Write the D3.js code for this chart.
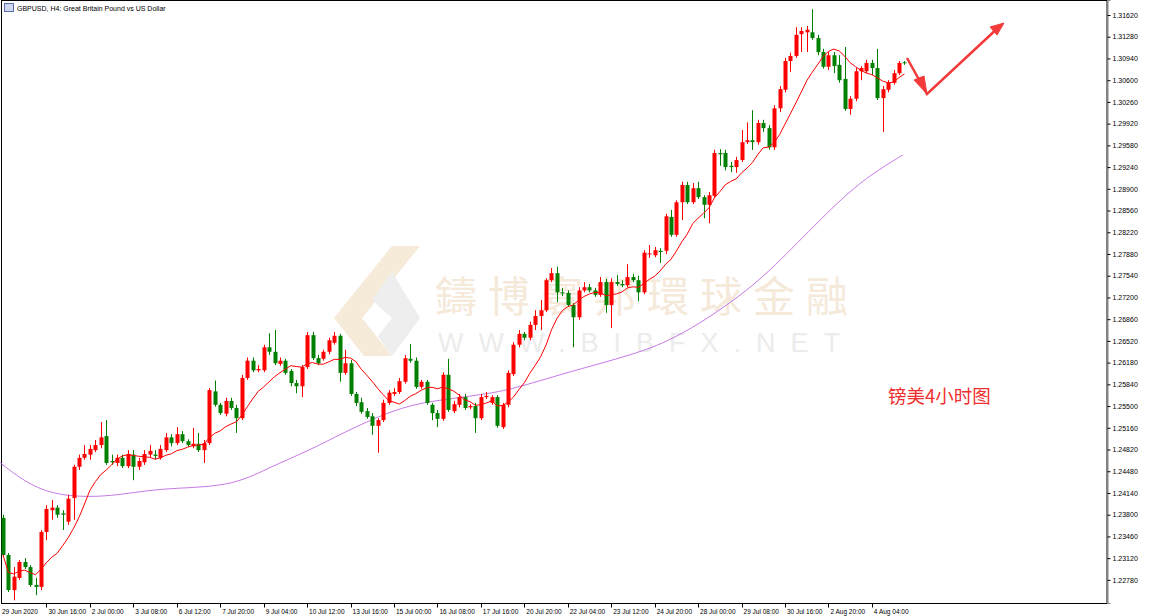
<!DOCTYPE html>
<html>
<head>
  <meta charset="UTF-8">
  <title>GBPUSD H4</title>
  <script src="https://cdn.jsdelivr.net/npm/d3@7"></script>
  <style>
    body { margin: 0; background: #fff; }
    svg { display: block; font-family: "Liberation Sans", Arial, sans-serif; }
  </style>
</head>
<body>
<svg id="chart" width="1170" height="616"></svg>
<script>
// OHLC per H4 bar
var open = [1.2375,1.2317,1.2262,1.2281,1.2306,1.2298,1.2270,1.2267,1.2353,1.2387,
1.2391,1.2382,1.2369,1.2406,1.2455,1.2469,1.2474,1.2481,1.2489,1.2503,
1.2464,1.2461,1.2469,1.2456,1.2474,1.2455,1.2462,1.2474,1.2474,1.2469,
1.2481,1.2501,1.2492,1.2506,1.2495,1.2487,1.2491,1.2481,1.2492,1.2573,
1.2552,1.2538,1.2558,1.2547,1.2531,1.2594,1.2621,1.2606,1.2606,1.2642,
1.2635,1.2616,1.2621,1.2605,1.2586,1.2581,1.2611,1.2661,1.2625,1.2624,
1.2635,1.2649,1.2660,1.2602,1.2617,1.2569,1.2556,1.2542,1.2534,1.2519,
1.2528,1.2555,1.2569,1.2572,1.2588,1.2624,1.2621,1.2580,1.2588,1.2552,
1.2539,1.2530,1.2599,1.2542,1.2552,1.2564,1.2548,1.2550,1.2531,1.2564,
1.2555,1.2564,1.2517,1.2552,1.2600,1.2646,1.2663,1.2657,1.2677,1.2691,
1.2700,1.2747,1.2758,1.2728,1.2727,1.2708,1.2689,1.2731,1.2736,1.2731,
1.2724,1.2744,1.2708,1.2744,1.2741,1.2739,1.2752,1.2747,1.2728,1.2788,
1.2786,1.2793,1.2793,1.2846,1.2818,1.2869,1.2896,1.2869,1.2891,1.2877,
1.2865,1.2879,1.2946,1.2946,1.2926,1.2924,1.2935,1.2963,1.2966,1.2963,
1.2993,1.2985,1.2955,1.3016,1.3045,1.3090,1.3098,1.3132,1.3135,1.3135,
1.3126,1.3104,1.3081,1.3099,1.3084,1.3062,1.3015,1.3031,1.3074,1.3074,
1.3087,1.3079,1.3032,1.3045,1.3056,1.3071,1.3088];
var high = [1.2380,1.2320,1.2298,1.2309,1.2312,1.2301,1.2281,1.2356,1.2395,1.2403,
1.2395,1.2387,1.2411,1.2458,1.2474,1.2489,1.2489,1.2497,1.2525,1.2528,
1.2474,1.2474,1.2474,1.2481,1.2481,1.2469,1.2481,1.2489,1.2481,1.2489,
1.2508,1.2506,1.2517,1.2511,1.2498,1.2516,1.2508,1.2497,1.2578,1.2590,
1.2555,1.2563,1.2563,1.2552,1.2599,1.2626,1.2626,1.2614,1.2646,1.2664,
1.2669,1.2626,1.2624,1.2608,1.2591,1.2614,1.2666,1.2666,1.2630,1.2638,
1.2657,1.2666,1.2663,1.2638,1.2622,1.2572,1.2563,1.2547,1.2539,1.2531,
1.2560,1.2575,1.2578,1.2594,1.2630,1.2647,1.2626,1.2591,1.2591,1.2555,
1.2544,1.2603,1.2624,1.2558,1.2569,1.2569,1.2553,1.2555,1.2569,1.2572,
1.2567,1.2567,1.2555,1.2606,1.2650,1.2669,1.2666,1.2682,1.2700,1.2716,
1.2750,1.2766,1.2768,1.2735,1.2731,1.2711,1.2736,1.2744,1.2741,1.2735,
1.2752,1.2749,1.2750,1.2755,1.2747,1.2772,1.2757,1.2754,1.2794,1.2802,
1.2799,1.2797,1.2851,1.2857,1.2872,1.2901,1.2901,1.2899,1.2901,1.2880,
1.2885,1.2951,1.2952,1.2951,1.2932,1.2940,1.2982,1.2994,1.3013,1.2998,
1.2998,1.2990,1.3021,1.3051,1.3095,1.3103,1.3143,1.3143,1.3145,1.3171,
1.3131,1.3109,1.3104,1.3104,1.3099,1.3112,1.3035,1.3079,1.3082,1.3092,
1.3092,1.3109,1.3051,1.3060,1.3076,1.3090,1.3090];
var low = [1.2314,1.2259,1.2246,1.2278,1.2295,1.2267,1.2254,1.2262,1.2340,1.2372,
1.2375,1.2356,1.2364,1.2372,1.2450,1.2466,1.2466,1.2478,1.2484,1.2458,
1.2458,1.2456,1.2453,1.2453,1.2434,1.2450,1.2458,1.2470,1.2466,1.2466,
1.2478,1.2487,1.2489,1.2492,1.2486,1.2484,1.2478,1.2461,1.2489,1.2549,
1.2536,1.2534,1.2544,1.2508,1.2528,1.2591,1.2603,1.2603,1.2603,1.2630,
1.2614,1.2613,1.2599,1.2581,1.2570,1.2564,1.2608,1.2622,1.2614,1.2621,
1.2631,1.2646,1.2588,1.2599,1.2566,1.2550,1.2538,1.2530,1.2505,1.2477,
1.2525,1.2552,1.2566,1.2569,1.2585,1.2618,1.2577,1.2577,1.2552,1.2528,
1.2517,1.2527,1.2541,1.2539,1.2548,1.2544,1.2545,1.2508,1.2528,1.2561,
1.2552,1.2516,1.2514,1.2548,1.2597,1.2642,1.2653,1.2653,1.2669,1.2669,
1.2697,1.2744,1.2713,1.2722,1.2705,1.2642,1.2685,1.2728,1.2728,1.2721,
1.2721,1.2696,1.2672,1.2738,1.2736,1.2736,1.2744,1.2714,1.2725,1.2782,
1.2783,1.2774,1.2788,1.2815,1.2815,1.2841,1.2866,1.2866,1.2874,1.2844,
1.2836,1.2876,1.2926,1.2919,1.2916,1.2915,1.2932,1.2960,1.2951,1.2959,
1.2979,1.2951,1.2951,1.3010,1.3041,1.3073,1.3095,1.3104,1.3104,1.3123,
1.3099,1.3078,1.3076,1.3071,1.3056,1.3012,1.3006,1.3027,1.3060,1.3071,
1.3068,1.3029,1.2979,1.3041,1.3053,1.3068,1.3084];
var close = [1.2317,1.2262,1.2283,1.2306,1.2298,1.2270,1.2267,1.2353,1.2389,1.2391,
1.2380,1.2380,1.2405,1.2455,1.2469,1.2475,1.2483,1.2489,1.2501,1.2461,
1.2462,1.2469,1.2456,1.2475,1.2455,1.2464,1.2475,1.2480,1.2472,1.2483,
1.2501,1.2492,1.2506,1.2495,1.2489,1.2491,1.2481,1.2492,1.2575,1.2552,
1.2539,1.2558,1.2547,1.2531,1.2594,1.2621,1.2606,1.2608,1.2642,1.2635,
1.2617,1.2621,1.2602,1.2586,1.2581,1.2611,1.2661,1.2625,1.2617,1.2635,
1.2653,1.2660,1.2602,1.2617,1.2569,1.2555,1.2541,1.2533,1.2519,1.2528,
1.2555,1.2571,1.2572,1.2589,1.2625,1.2621,1.2580,1.2588,1.2555,1.2539,
1.2530,1.2599,1.2544,1.2553,1.2564,1.2547,1.2550,1.2531,1.2564,1.2566,
1.2564,1.2519,1.2552,1.2602,1.2646,1.2663,1.2657,1.2677,1.2691,1.2700,
1.2747,1.2758,1.2728,1.2727,1.2708,1.2689,1.2731,1.2736,1.2731,1.2724,
1.2744,1.2708,1.2744,1.2741,1.2739,1.2752,1.2747,1.2728,1.2790,1.2789,
1.2794,1.2791,1.2847,1.2818,1.2869,1.2896,1.2869,1.2891,1.2877,1.2865,
1.2880,1.2946,1.2944,1.2924,1.2924,1.2935,1.2963,1.2966,1.2963,1.2993,
1.2985,1.2955,1.3016,1.3046,1.3090,1.3098,1.3131,1.3137,1.3139,1.3126,
1.3104,1.3081,1.3099,1.3082,1.3060,1.3015,1.3031,1.3074,1.3079,1.3087,
1.3079,1.3032,1.3046,1.3056,1.3071,1.3087,1.3087];

// slow moving average (violet), read at a few bars
var slowIdx = [-0.5, 5.5, 11.8, 19.7, 28.9, 41.8, 48.8, 56.5, 62.6, 68.9, 75, 81, 87.3, 93.4, 103.9, 116, 124.7, 137.6, 145, 154, 159.7, 165.7];
var slowVal = [1.2461,1.2422,1.2408,1.2408,1.2422,1.2423,1.2453,1.2481,1.2508,1.2533,1.2552,1.2560,1.2567,1.2575,1.2603,1.2630,1.2658,1.2732,1.2794,1.2872,1.2912,1.2943];

var priceTicks = [1.22780,1.23120,1.23460,1.23800,1.24140,1.24480,1.24820,1.25160,1.25500,1.25840,
  1.26180,1.26520,1.26860,1.27200,1.27540,1.27880,1.28220,1.28560,1.28900,1.29240,1.29580,1.29920,
  1.30260,1.30600,1.30940,1.31280,1.31620];
var timeLabels = ["30 Jun 16:00","2 Jul 00:00","3 Jul 08:00","6 Jul 12:00","7 Jul 20:00","9 Jul 04:00",
  "10 Jul 12:00","13 Jul 16:00","15 Jul 00:00","16 Jul 08:00","17 Jul 16:00","20 Jul 20:00",
  "22 Jul 04:00","23 Jul 12:00","24 Jul 20:00","28 Jul 00:00","29 Jul 08:00","30 Jul 16:00",
  "2 Aug 20:00","4 Aug 04:00"];
var maPeriod = 10;

var svg = d3.select("#chart");
var W = 1107, H = 603;
var x = d3.scaleLinear().domain([-0.55, 203.3]).range([0, W]);
var y = d3.scaleLinear().domain([1.22418, 1.31855]).range([H, 0]);

// watermark
var wm = svg.append("g");
wm.append("polygon").attr("points", "392,246 420,246 362,318 334,318").attr("fill", "#f6ead8");
wm.append("polygon").attr("points", "334,318 362,318 392,356 364,356").attr("fill", "#f6ead8");
wm.append("polygon").attr("points", "372,300 392,272 420,318 392,356 378,336 392,318").attr("fill", "#eeeeee");
wm.append("text").attr("x", 435).attr("y", 312).attr("font-size", 42)
  .attr("font-family", "Noto Sans CJK TC").attr("fill", "#f5e9da").attr("letter-spacing", 11)
  .text("鑄博寰邦環球金融");
wm.append("text").attr("x", 438).attr("y", 352).attr("font-size", 27)
  .attr("fill", "#ececec").attr("letter-spacing", 15)
  .text("WWW.BIBFX.NET");

// frame
svg.append("rect").attr("x", 1.5).attr("y", 0.5).attr("width", W - 1.5).attr("height", H)
  .attr("fill", "none").attr("stroke", "#000");

// right price axis
var ya = svg.append("g").attr("transform", "translate(" + (W + 0.5) + ",0)")
  .call(d3.axisRight(y).tickValues(priceTicks).tickSize(3).tickFormat(d3.format(".5f")));
ya.select(".domain").attr("stroke", "#888");
ya.selectAll("text").attr("font-size", 7).attr("font-family", "Liberation Sans").attr("fill", "#000").attr("x", 5);

// bottom time axis
var tickIdx = timeLabels.map(function(d, i) { return (i + 1) * 8; });
var xa = svg.append("g").attr("transform", "translate(0," + (H + 0.5) + ")");
xa.selectAll("line").data(tickIdx).enter().append("line")
  .attr("x1", function(d) { return Math.round(x(d)) + 0.5; })
  .attr("x2", function(d) { return Math.round(x(d)) + 0.5; })
  .attr("y1", 0).attr("y2", 4).attr("stroke", "#000");
xa.selectAll("text.t").data(timeLabels).enter().append("text")
  .attr("x", function(d, i) { return x(tickIdx[i]) + 2; })
  .attr("y", 10).attr("font-size", 6.5).text(function(d) { return d; });
xa.append("text").attr("x", 2).attr("y", 10).attr("font-size", 6.5).text("29 Jun 2020");

// title
svg.append("rect").attr("x", 4.5).attr("y", 3.5).attr("width", 9).attr("height", 8)
  .attr("fill", "#cfd8f0").attr("stroke", "#5a6fb0");
svg.append("text").attr("x", 17).attr("y", 10.5).attr("font-size", 7)
  .text("GBPUSD, H4:  Great Britain Pound vs US Dollar");

var plot = svg.append("g");

// slow MA
plot.append("path").datum(slowIdx.map(function(d, i) { return [d, slowVal[i]]; }))
  .attr("fill", "none").attr("stroke", "#c77ae6").attr("stroke-width", 1)
  .attr("d", d3.line().x(function(d) { return x(d[0]); }).y(function(d) { return y(d[1]); }).curve(d3.curveBasis));

// candles
var bars = d3.range(close.length);
var up = function(i) { return close[i] >= open[i]; };
var col = function(i) { return up(i) ? "#ff0000" : "#008000"; };
plot.selectAll("line.w").data(bars).enter().append("line")
  .attr("x1", function(i) { return Math.round(x(i)) + 0.5; })
  .attr("x2", function(i) { return Math.round(x(i)) + 0.5; })
  .attr("y1", function(i) { return y(high[i]); })
  .attr("y2", function(i) { return y(low[i]); })
  .attr("stroke", col);
plot.selectAll("rect.b").data(bars).enter().append("rect")
  .attr("x", function(i) { return Math.round(x(i)) - 1.5; })
  .attr("width", 4)
  .attr("y", function(i) { return y(Math.max(open[i], close[i])); })
  .attr("height", function(i) { return Math.max(1, Math.abs(y(open[i]) - y(close[i]))); })
  .attr("fill", col);

// fast MA on closes
var ma = bars.map(function(i) {
  var s = close.slice(Math.max(0, i - maPeriod + 1), i + 1);
  return [i, d3.mean(s)];
});
plot.append("path").datum(ma).attr("fill", "none").attr("stroke", "#ff0000").attr("stroke-width", 1)
  .attr("d", d3.line().x(function(d) { return x(d[0]); }).y(function(d) { return y(d[1]); }));

// hand-drawn arrow annotation
var ann = svg.append("g").attr("stroke", "#f23a3a").attr("fill", "#f23a3a");
ann.append("polyline").attr("points", "907,58 927,94 1000,26").attr("fill", "none").attr("stroke-width", 2.5);
ann.append("polygon").attr("points", "927,94 914,80 924,76").attr("stroke-width", 1);
ann.append("polygon").attr("points", "1004,23 990,27 997,35").attr("stroke-width", 1);
svg.append("text").attr("x", 888).attr("y", 403).attr("font-size", 18.5)
  .attr("font-family", "Noto Sans CJK SC").attr("fill", "#f03030").text("镑美4小时图");
</script>
</body>
</html>
